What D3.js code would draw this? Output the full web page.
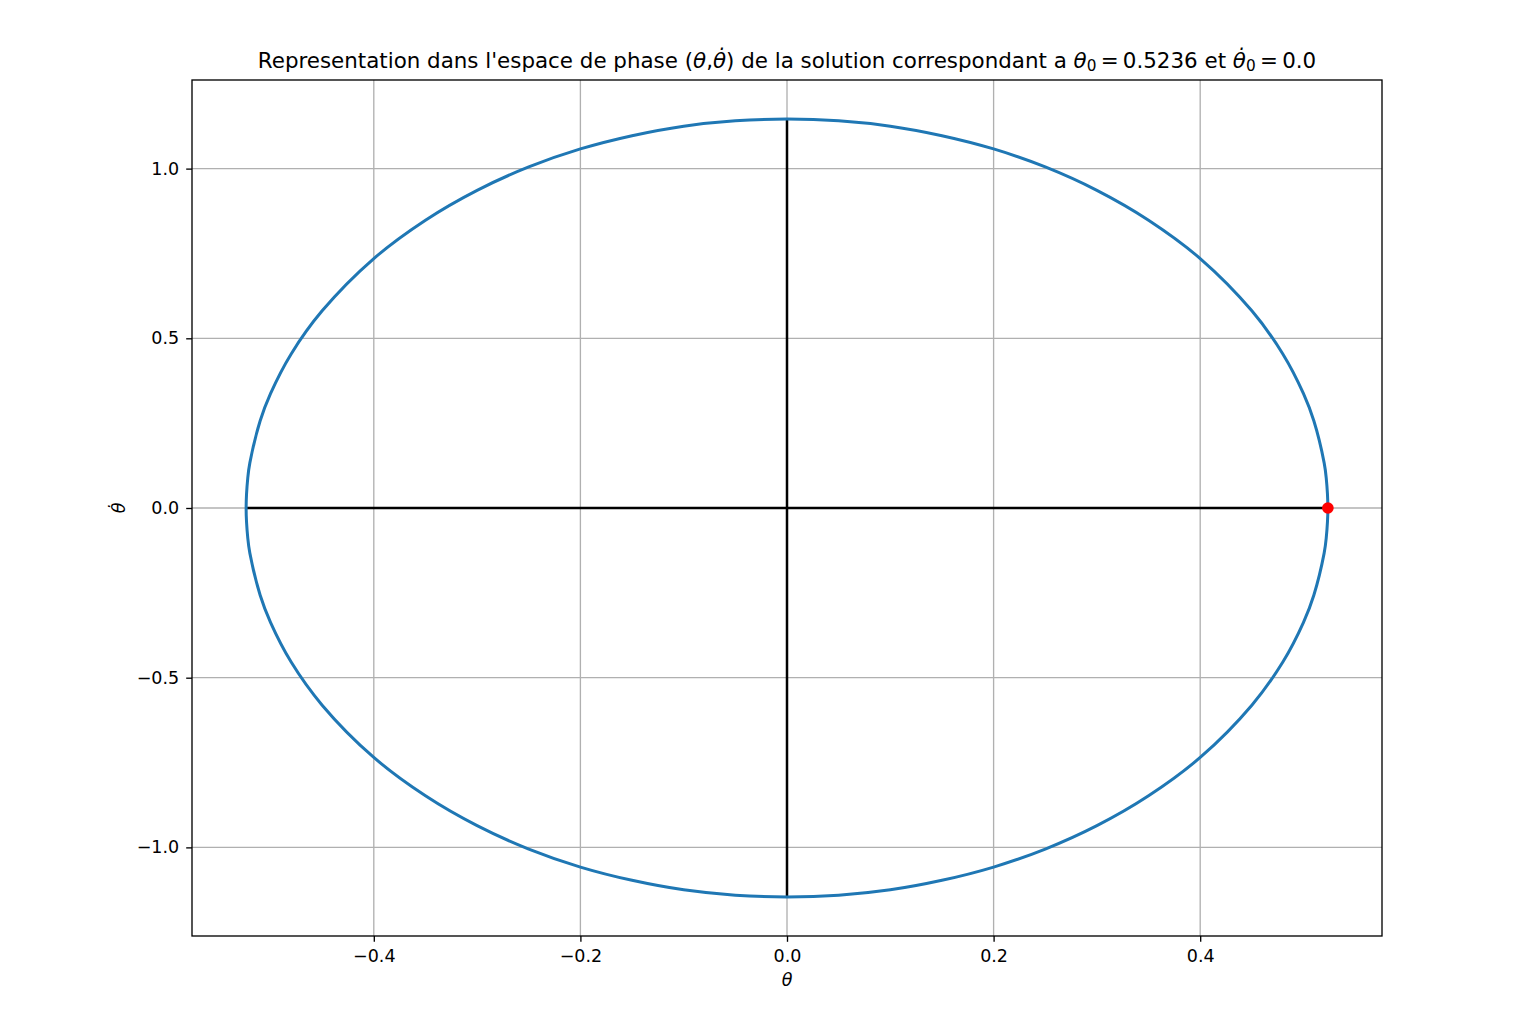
<!DOCTYPE html>
<html>
<head>
<meta charset="utf-8">
<script src="https://cdn.jsdelivr.net/npm/d3@7"></script>
<style>
  html, body { margin: 0; padding: 0; background: #ffffff; }
  svg { display: block; }
  text { font-family: "DejaVu Sans", sans-serif; fill: #000; }
</style>
</head>
<body>
<svg id="chart" width="1536" height="1024"></svg>
<script>
// ---- data ----
const theta0 = 0.5236;
const thetaDot0 = 0.0;
const thetaPts = [
  0.5236, 0.522, 0.52, 0.51, 0.50, 0.48, 0.45, 0.40, 0.35, 0.30, 0.25, 0.20, 0.15, 0.10, 0.05, 0.00,
  -0.05, -0.10, -0.15, -0.20, -0.25, -0.30, -0.35, -0.40, -0.45, -0.48, -0.50, -0.51, -0.52, -0.522,
  -0.5236, -0.522, -0.52, -0.51, -0.50, -0.48, -0.45, -0.40, -0.35, -0.30, -0.25, -0.20, -0.15, -0.10, -0.05, 0.00,
  0.05, 0.10, 0.15, 0.20, 0.25, 0.30, 0.35, 0.40, 0.45, 0.48, 0.50, 0.51, 0.52, 0.522
];
const thetaDotPts = [
  0.000, 0.089, 0.133, 0.257, 0.337, 0.454, 0.581, 0.735, 0.848, 0.936, 1.005, 1.058, 1.097, 1.125, 1.141, 1.146,
  1.141, 1.125, 1.097, 1.058, 1.005, 0.936, 0.848, 0.735, 0.581, 0.454, 0.337, 0.257, 0.133, 0.089,
  0.000, -0.089, -0.133, -0.257, -0.337, -0.454, -0.581, -0.735, -0.848, -0.936, -1.005, -1.058, -1.097, -1.125, -1.141, -1.146,
  -1.141, -1.125, -1.097, -1.058, -1.005, -0.936, -0.848, -0.735, -0.581, -0.454, -0.337, -0.257, -0.133, -0.089
];
const hLineX = [-0.5236, 0.5236];
const hLineY = [0, 0];
const vLineX = [0, 0];
const vLineY = [-1.146, 1.146];
const xTicks = [-0.4, -0.2, 0.0, 0.2, 0.4];
const yTicks = [-1.0, -0.5, 0.0, 0.5, 1.0];
const xDomain = [-0.576, 0.576];
const yDomain = [-1.2611, 1.2611];

// ---- layout ----
const L = 192, R = 1382, T = 80, B = 936;
const svg = d3.select("#chart");
const x = d3.scaleLinear().domain(xDomain).range([L, R]);
const y = d3.scaleLinear().domain(yDomain).range([B, T]);
const fmt = v => (v < 0 ? "\u2212" : "") + Math.abs(v).toFixed(1);

// grid
const grid = svg.append("g");
grid.selectAll("line.gx").data(xTicks).enter().append("line")
  .attr("x1", d => x(d)).attr("x2", d => x(d)).attr("y1", T).attr("y2", B)
  .attr("stroke", "#b0b0b0").attr("stroke-width", 1.33);
grid.selectAll("line.gy").data(yTicks).enter().append("line")
  .attr("y1", d => y(d)).attr("y2", d => y(d)).attr("x1", L).attr("x2", R)
  .attr("stroke", "#b0b0b0").attr("stroke-width", 1.33);

// black reference lines
const line = d3.line().x(d => x(d[0])).y(d => y(d[1]));
svg.append("path").datum(hLineX.map((v, i) => [v, hLineY[i]]))
  .attr("d", line).attr("fill", "none").attr("stroke", "#000").attr("stroke-width", 2.5);
svg.append("path").datum(vLineX.map((v, i) => [v, vLineY[i]]))
  .attr("d", line).attr("fill", "none").attr("stroke", "#000").attr("stroke-width", 2.5);

// orbit
const orbit = d3.line().x(d => x(d[0])).y(d => y(d[1])).curve(d3.curveCatmullRomClosed.alpha(0.5));
svg.append("path").datum(thetaPts.map((v, i) => [v, thetaDotPts[i]]))
  .attr("d", orbit).attr("fill", "none").attr("stroke", "#1f77b4").attr("stroke-width", 3)
  .attr("stroke-linejoin", "round");

// initial point
svg.append("circle").attr("cx", x(theta0)).attr("cy", y(thetaDot0)).attr("r", 5.8).attr("fill", "#ff0000");

// axes
const xAxis = svg.append("g").attr("transform", `translate(0,${B})`)
  .call(d3.axisBottom(x).tickValues(xTicks).tickFormat(fmt).tickSize(5.8).tickPadding(8));
const yAxis = svg.append("g").attr("transform", `translate(${L},0)`)
  .call(d3.axisLeft(y).tickValues(yTicks).tickFormat(fmt).tickSize(5.8).tickPadding(7));
[xAxis, yAxis].forEach(a => {
  a.select(".domain").remove();
  a.selectAll(".tick line").attr("stroke", "#000").attr("stroke-width", 1.33);
  a.selectAll(".tick text").attr("font-family", "DejaVu Sans").attr("font-size", 17.5).attr("fill", "#000");
});

// frame
svg.append("rect").attr("x", L).attr("y", T).attr("width", R - L).attr("height", B - T)
  .attr("fill", "none").attr("stroke", "#000").attr("stroke-width", 1.33);

// axis labels
svg.append("text").attr("x", (L + R) / 2).attr("y", 986).attr("text-anchor", "middle")
  .attr("font-size", 17.5).attr("font-style", "italic").text("\u03b8");
svg.append("text").attr("transform", `translate(125,${y(0)}) rotate(-90)`).attr("text-anchor", "middle")
  .attr("font-size", 17.5).attr("font-style", "italic").text("\u03b8\u0307");

// title
const title = svg.append("text").attr("x", (L + R) / 2).attr("y", 68).attr("text-anchor", "middle")
  .attr("font-size", 21.4);
title.append("tspan").text("Representation dans l'espace de phase (");
title.append("tspan").attr("font-style", "italic").text("\u03b8");
title.append("tspan").text(",");
title.append("tspan").attr("font-style", "italic").text("\u03b8\u0307");
title.append("tspan").text(") de la solution correspondant a ");
title.append("tspan").attr("font-style", "italic").text("\u03b8");
title.append("tspan").attr("font-size", 15.3).attr("dy", 3).text("0");
title.append("tspan").attr("dy", -3).text("\u2009=\u2009" + theta0.toFixed(4) + " et ");
title.append("tspan").attr("font-style", "italic").text("\u03b8\u0307");
title.append("tspan").attr("font-size", 15.3).attr("dy", 3).text("0");
title.append("tspan").attr("dy", -3).text("\u2009=\u2009" + thetaDot0.toFixed(1));
</script>
</body>
</html>
